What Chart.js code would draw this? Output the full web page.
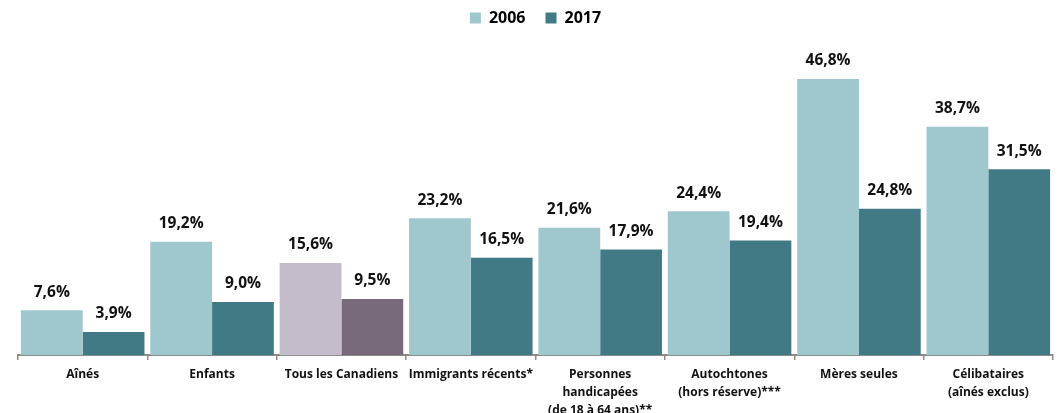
<!DOCTYPE html>
<html>
<head>
<meta charset="utf-8">
<script src="https://cdn.jsdelivr.net/npm/chart.js@4"></script>
<style>
  html, body { margin: 0; padding: 0; background: #fff; }
  #wrap { width: 1057px; height: 413px; }
</style>
</head>
<body>
<div id="wrap"><canvas id="c"></canvas></div>
<script>
// catégories et valeurs (% de faible revenu)
var categories = [
    'Aînés',
    'Enfants',
    'Tous les Canadiens',
    'Immigrants récents*',
    ['Personnes', 'handicapées', '(de 18 à 64 ans)**'],
    ['Autochtones', '(hors réserve)***'],
    'Mères seules',
    ['Célibataires', '(aînés exclus)']
];
var serie2006 = [7.6, 19.2, 15.6, 23.2, 21.6, 24.4, 46.8, 38.7];
var serie2017 = [3.9, 9.0, 9.5, 16.5, 17.9, 19.4, 24.8, 31.5];

var FONT = '"Open Sans", "Noto Sans", sans-serif';
var c2006 = '#9fc7ce', c2017 = '#417a84';
var tous2006 = '#c5bcca', tous2017 = '#786a7b';

function couleurs(base, tous) {
    return categories.map(function (c) { return c === 'Tous les Canadiens' ? tous : base; });
}

function fmt(v) { return v.toFixed(1).replace('.', ',') + '%'; }

// étiquettes au-dessus des barres
var etiquettes = {
    id: 'etiquettes',
    afterDatasetsDraw: function (chart) {
        var ctx = chart.ctx;
        ctx.save();
        ctx.font = 'bold 15.5px ' + FONT;
        ctx.fillStyle = '#111';
        ctx.textAlign = 'center';
        ctx.textBaseline = 'middle';
        chart.data.datasets.forEach(function (ds, i) {
            chart.getDatasetMeta(i).data.forEach(function (bar, j) {
                ctx.fillText(fmt(ds.data[j]), bar.x, bar.y - 18);
            });
        });
        ctx.restore();
    }
};

new Chart(document.getElementById('c'), {
    type: 'bar',
    data: {
        labels: categories,
        datasets: [
            { label: '2006', data: serie2006, backgroundColor: couleurs(c2006, tous2006) },
            { label: '2017', data: serie2017, backgroundColor: couleurs(c2017, tous2017) }
        ]
    },
    options: {
        responsive: true,
        maintainAspectRatio: false,
        animation: false,
        layout: { padding: { left: 18, right: 4, top: -10, bottom: -13 } },
        datasets: { bar: { categoryPercentage: 0.955, barPercentage: 1.0 } },
        plugins: {
            legend: {
                position: 'top',
                labels: {
                    boxWidth: 11, boxHeight: 11, padding: 20,
                    font: { family: FONT, size: 16, weight: 'bold' },
                    color: '#111',
                    generateLabels: function (chart) {
                        return [
                            { text: '2006', fillStyle: c2006, strokeStyle: c2006, lineWidth: 0, datasetIndex: 0 },
                            { text: '2017', fillStyle: c2017, strokeStyle: c2017, lineWidth: 0, datasetIndex: 1 }
                        ];
                    }
                }
            },
            tooltip: { enabled: false }
        },
        scales: {
            x: {
                grid: { display: true, drawOnChartArea: false, offset: true, tickLength: 5, color: '#8c8c8c', lineWidth: 1.5 },
                border: { color: '#8c8c8c', width: 2 },
                ticks: { color: '#111', font: { family: FONT, size: 12, weight: 'bold', lineHeight: 1.5 }, maxRotation: 0, autoSkip: false, padding: 6 }
            },
            y: { display: false, min: 0, max: 54.1 }
        }
    },
    plugins: [etiquettes]
});
</script>
</body>
</html>
